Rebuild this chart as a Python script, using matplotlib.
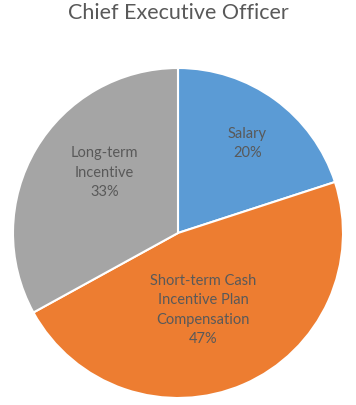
import matplotlib.pyplot as plt
import numpy as np

# data
categories = ['Salary', 'Short-term Cash\nIncentive Plan\nCompensation', 'Long-term\nIncentive']
shares = [20, 47, 33]
colors = ['#5B9BD5', '#ED7D31', '#A5A5A5']
# label placement inside each slice: radius fraction, angle nudge (deg)
label_r = [0.69, 0.485, 0.58]
label_nudge = [-1.5, -5, -9]

plt.rcParams['font.family'] = ['Lato', 'DejaVu Sans']

fig = plt.figure(figsize=(3.56, 4.06), dpi=100)
ax = fig.add_axes([13 / 356, 7 / 406, 330 / 356, 330 / 406])

wedges, _ = ax.pie(shares, colors=colors, startangle=90, counterclock=False,
                   radius=1, wedgeprops=dict(edgecolor='white', linewidth=1.5))

for w, cat, val, r, dn in zip(wedges, categories, shares, label_r, label_nudge):
    mid = np.deg2rad((w.theta1 + w.theta2) / 2 + dn)
    ax.text(r * np.cos(mid), r * np.sin(mid), f'{cat}\n{val}%',
            ha='center', va='center', fontsize=10.5, color='#595959',
            linespacing=1.5)

ax.set_xlim(-1, 1)
ax.set_ylim(-1, 1)
ax.set_aspect('equal')
ax.axis('off')

fig.text(0.5, 1 - 13 / 406, 'Chief Executive Officer', ha='center', va='center',
         fontsize=15.5, color='#595959')

fig.savefig('out.png', dpi=100)
